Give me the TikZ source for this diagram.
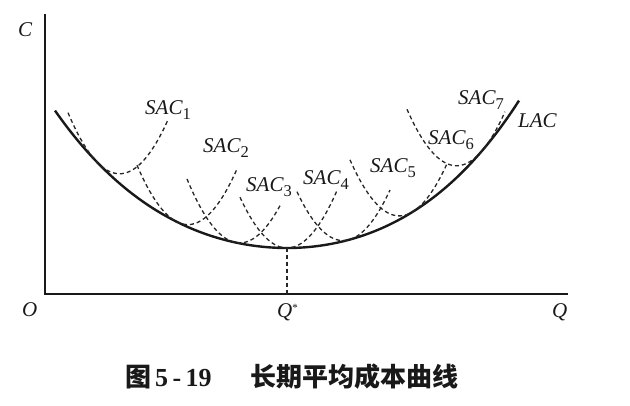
\documentclass[tikz,border=0pt]{standalone}
\usepackage{fontspec}
\setmainfont{Liberation Serif}
\newfontfamily\cjk{Noto Sans CJK SC}
\newcommand\subn[1]{\raisebox{-4.5pt}{\fontsize{16.5}{16.5}\selectfont\upshape #1}}
\begin{document}
\begin{tikzpicture}[x=1pt,y=-1pt,
  declare function={
    lact(\u)=(\u-287)/100;
    lacy(\u)=248-(20.7*lact(\u)*lact(\u)+0.4*lact(\u)*lact(\u)*lact(\u)+1.07*lact(\u)*lact(\u)*lact(\u)*lact(\u));
    lacs(\u)=-(41.4*lact(\u)+1.2*lact(\u)*lact(\u)+4.28*lact(\u)*lact(\u)*lact(\u))/100;
    sacy(\u,\v)=lacy(\v)+lacs(\v)*(\u-\v)-0.023*(\u-\v)*(\u-\v);
  },
  axisline/.style={line width=1.6pt, black!90},
  lacline/.style={line width=2.4pt, black!90},
  sacline/.style={line width=1.3pt, black!85, dash pattern=on 4pt off 3pt},
  lbl/.style={anchor=base west, inner sep=0pt, font=\fontsize{21}{21}\selectfont\itshape, black!90},
  captxt/.style={anchor=base west, inner sep=0pt, font=\fontsize{26}{26}\selectfont\bfseries, black!90}]
\useasboundingbox (0,0) rectangle (630,406);
% axes
\coordinate (O) at (45,294);
\coordinate (ytop) at (45,14);
\coordinate (xend) at (568,294);
\draw[axisline] (ytop) -- (O) -- (xend);
% LAC
\draw[lacline] plot[domain=55:519, samples=120, smooth] (\x,{lacy(\x)});
% SAC curves
\foreach \a/\l/\r in {97/68/168, 177/137/237, 235/187/280, 287/240/337, 349/297/390, 413/350/447, 482/407/505}
  \draw[sacline] plot[domain=\l:\r, samples=50, smooth] (\x,{sacy(\x,\a)});
% Q* drop line
\coordinate (qs) at (287,{lacy(287)});
\coordinate (qsb) at (287,294);
\draw[sacline] (qs) -- (qsb);
% labels
\node[lbl] (lC) at (18,37) {C};
\node[lbl] (lO) at (22,317) {O};
\node[lbl] (lQs) at (277,318) {Q\raisebox{6pt}{\fontsize{11}{11}\selectfont\upshape *}};
\node[lbl] (lQ) at (552,318) {Q};
\node[lbl] (s1) at (145,115) {SAC\subn{1}};
\node[lbl] (s2) at (203,153) {SAC\subn{2}};
\node[lbl] (s3) at (246,192) {SAC\subn{3}};
\node[lbl] (s4) at (303,185) {SAC\subn{4}};
\node[lbl] (s5) at (370,173) {SAC\subn{5}};
\node[lbl] (s6) at (428,145) {SAC\subn{6}};
\node[lbl] (s7) at (458,105) {SAC\subn{7}};
\node[lbl] (lac) at (518,128) {LAC};
% caption
\node[captxt] (c1) at (125,387) {\cjk 图};
\node[captxt] (c2) at (155,387) {5\,-\,19};
\node[captxt] (c3) at (250,387) {\cjk 长期平均成本曲线};
\end{tikzpicture}
\end{document}
